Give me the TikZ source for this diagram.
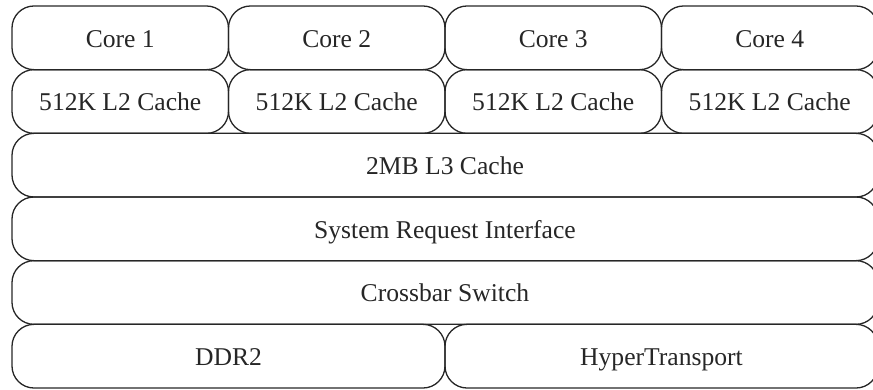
\documentclass[tikz,border=0pt]{standalone}
\usepackage{fontspec}
\setmainfont{Liberation Serif}
\begin{document}
\begin{tikzpicture}[x=1pt,y=-1pt,
  blk/.style={draw=black!85, line width=1.3pt, rounded corners=22pt, inner sep=0pt,
    minimum height=63.67pt, font=\fontsize{25.6}{30}\selectfont, text=black!85,
    text height=23.5pt, text depth=4.6pt},
  quarter/.style={blk, minimum width=216.5pt},
  half/.style={blk, minimum width=433pt},
  full/.style={blk, minimum width=866pt}]
\useasboundingbox (0,0) rectangle (873,390);
\clip (0,0) rectangle (873,390);
% row 1
\node[quarter] (c1) at (120.25, 37.83) {Core 1};
\node[quarter] (c2) at (336.75, 37.83) {Core 2};
\node[quarter] (c3) at (553.25, 37.83) {Core 3};
\node[quarter] (c4) at (769.75, 37.83) {Core 4};
% row 2
\node[quarter] (l1) at (120.25, 101.5) {512K L2 Cache};
\node[quarter] (l2) at (336.75, 101.5) {512K L2 Cache};
\node[quarter] (l3) at (553.25, 101.5) {512K L2 Cache};
\node[quarter] (l4) at (769.75, 101.5) {512K L2 Cache};
% rows 3-5
\node[full] (l3c) at (445, 165.17) {2MB L3 Cache};
\node[full] (sri) at (445, 228.83) {System Request Interface};
\node[full] (xbar) at (445, 292.5) {Crossbar Switch};
% row 6
\node[half] (ddr) at (228.5, 356.17) {DDR2};
\node[half] (ht) at (661.5, 356.17) {HyperTransport};
\end{tikzpicture}
\end{document}
